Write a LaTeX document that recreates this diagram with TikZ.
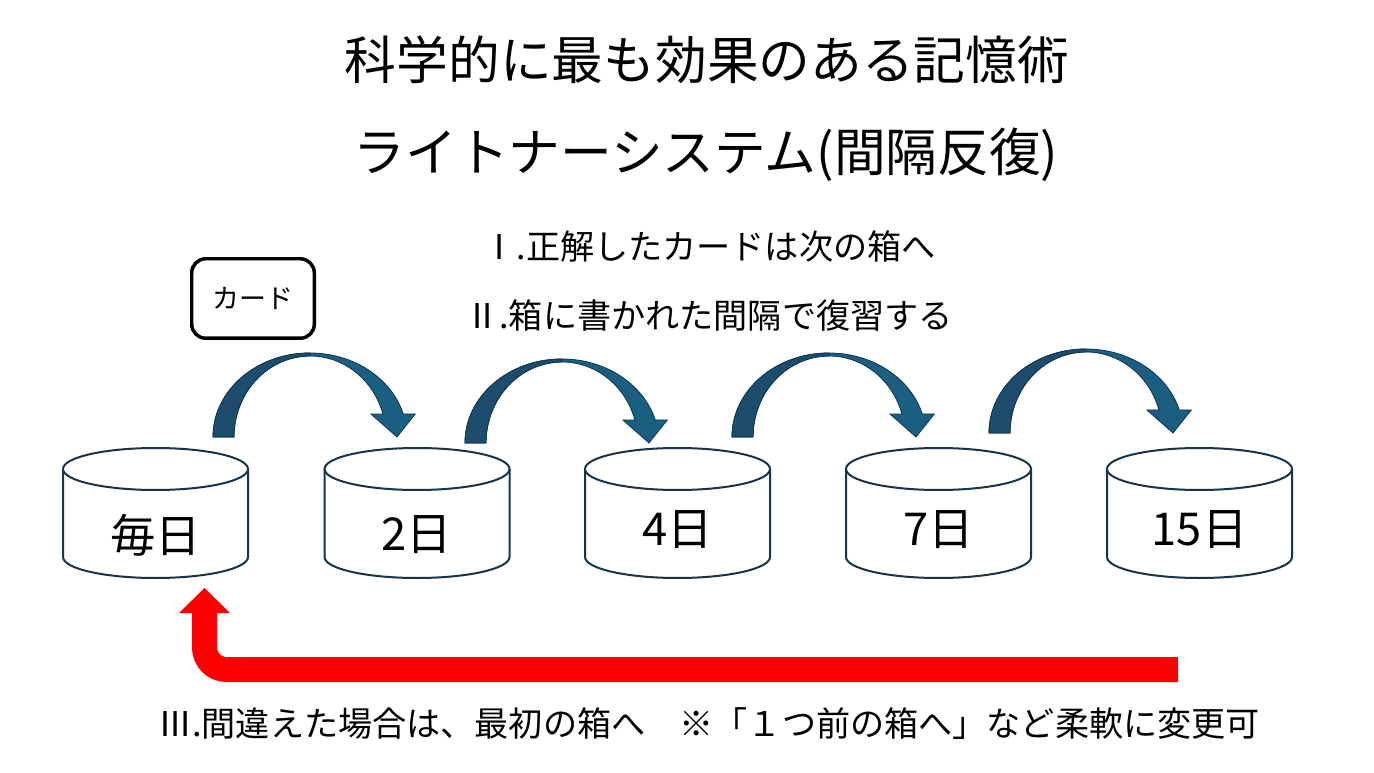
\documentclass[tikz,border=0pt]{standalone}
\usepackage{fontspec}
\setmainfont{Noto Sans CJK JP}

\definecolor{arrowdark}{HTML}{1C4D6C}
\definecolor{arrowlight}{HTML}{1B5F80}
\definecolor{arrowline}{HTML}{0F3550}
\definecolor{cylline}{HTML}{1A3346}
\definecolor{backred}{HTML}{FF0000}

\begin{document}
\begin{tikzpicture}[x=0.75pt,y=0.75pt,yscale=-1,xscale=1,
  title/.style={font=\fontsize{38.8}{46}\selectfont},
  rule/.style={font=\fontsize{25.6}{30}\selectfont},
  daylabel/.style={font=\fontsize{34}{40}\selectfont},
  cardbox/.style={draw, line width=2.6pt, rounded corners=10.5pt, minimum width=91.9pt, minimum height=59.6pt, font=\fontsize{20.2}{24}\selectfont},
  cyl/.style={draw=cylline, line width=1.5pt, fill=white},
  hoparrow/.style={draw=arrowline, line width=0.6pt}]

\useasboundingbox (0, 0) rectangle (1374, 773);

\node[title] (title1) at (707, 60) {科学的に最も効果のある記憶術};
\node[title] (title2) at (706, 155) {ライトナーシステム(間隔反復)};

\node[rule] (rule1) at (709, 246) {Ⅰ.正解したカードは次の箱へ};
\node[rule] (rule2) at (709, 316) {Ⅱ.箱に書かれた間隔で復習する};

\node[cardbox] (card) at (253, 298.5) {カード};

% curved arrows between the boxes
\foreach \fx/\by in {213/437, 465/443, 732/437, 989/433} {
  \pgfmathsetmacro{\cx}{\fx+97}
  \filldraw[hoparrow, fill=arrowlight] (\fx, \by) arc[start angle=180, end angle=344.1, x radius=97, y radius=84] -- ++(12, 0) -- ({\cx+87}, \by) -- ({\cx+60.9}, {\by-23}) -- ({\cx+72.9}, {\by-23}) arc[start angle=343.5, end angle=180, x radius=76, y radius=81] -- cycle;
  \filldraw[hoparrow, fill=arrowdark] (\fx, \by) arc[start angle=180, end angle=270, x radius=97, y radius=84] -- (\cx, {\by-81}) arc[start angle=270, end angle=180, x radius=76, y radius=81] -- cycle;
}

% boxes
\foreach \cx/\days/\ty [count=\i] in {155.5/毎日/535, 417/2日/535, 677.5/4日/530, 938.5/7日/530, 1199.5/15日/530} {
  \draw[cyl] ({\cx-92.5}, 469) -- ({\cx-92.5}, 557) arc[start angle=180, end angle=0, x radius=92.5, y radius=21] -- ({\cx+92.5}, 469);
  \draw[cyl] (\cx, 469) ellipse [x radius=92.5, y radius=21];
  \node[daylabel] (box\i) at (\cx, \ty) {\days};
}

% back to the first box
\coordinate (wrongend) at (1178, 669.5);
\coordinate (backtip) at (204.5, 588);
\draw[backred, line width=18.75pt, rounded corners=16.5pt] (wrongend) -- (204.5, 669.5) -- (204.5, 612);
\fill[backred] (179, 613) -- (backtip) -- (230, 613) -- cycle;

\node[rule] (rule3) at (709, 724) {Ⅲ.間違えた場合は、最初の箱へ　※「１つ前の箱へ」など柔軟に変更可};

\end{tikzpicture}
\end{document}
